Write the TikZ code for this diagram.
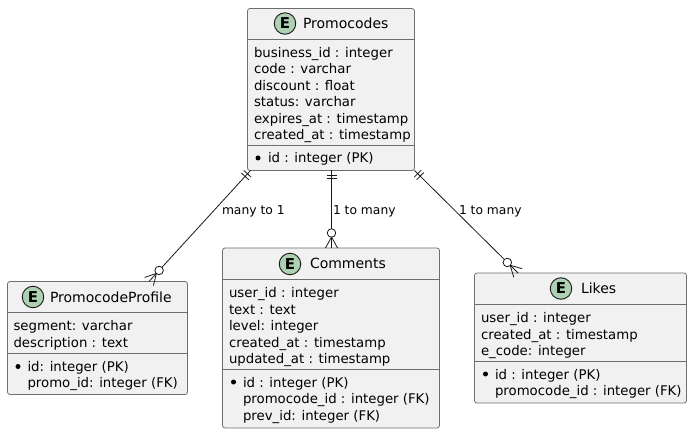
\documentclass[tikz,border=0pt]{standalone}
\usepackage{fontspec}
\setmainfont{DejaVu Sans}
\usetikzlibrary{calc}
\definecolor{boxfill}{HTML}{F1F1F1}
\definecolor{boxline}{HTML}{6E6E6E}
\definecolor{spot}{HTML}{ADD1B2}
\definecolor{ink}{HTML}{181818}
\tikzset{
  x=1pt,y=-1pt,
  entity/.style={draw=boxline,fill=boxfill,rounded corners=2.5pt,line width=.8pt,inner sep=0pt,outer sep=0pt},
  divider/.style={draw=boxline,line width=.8pt},
  attr/.style={anchor=base west,inner sep=0pt,outer sep=0pt,text=black,font=\fontsize{13.3}{15}\selectfont},
  title/.style={anchor=base west,inner sep=0pt,outer sep=0pt,text=black,font=\fontsize{14}{16}\selectfont},
  lab/.style={anchor=base west,inner sep=0pt,outer sep=0pt,text=black,font=\fontsize{12.3}{14}\selectfont},
  spotmark/.style={circle,draw=ink,fill=spot,line width=.9pt,minimum size=21.5pt,inner sep=0pt,font=\fontsize{15}{16}\selectfont\bfseries},
  dot/.style={circle,fill=black,minimum size=5pt,inner sep=0pt,outer sep=0pt},
  link/.style={draw=ink,line width=.8pt},
  ring/.style={circle,draw=ink,fill=white,line width=.8pt,minimum size=8.5pt,inner sep=0pt,outer sep=0pt},
}
% \erlink{start}{end}: ticks at the start, ring and crow's foot at the end
\newcommand{\erlink}[2]{%
  \coordinate (rc) at ($(#2)!15pt!(#1)$);
  \coordinate (ap) at ($(#2)!11pt!(#1)$);
  \coordinate (t1) at ($(#1)!4.5pt!(#2)$);
  \coordinate (t2) at ($(#1)!8pt!(#2)$);
  \draw[link] (#1) -- (rc);
  \node[ring] at (rc) {};
  \draw[link] (ap) -- (#2);
  \draw[link] (ap) -- ($(#2)!6pt!90:(#1)$);
  \draw[link] (ap) -- ($(#2)!6pt!-90:(#1)$);
  \draw[link] ($(t1)!5pt!90:(#2)$) -- ($(t1)!5pt!-90:(#2)$);
  \draw[link] ($(t2)!5pt!90:(#2)$) -- ($(t2)!5pt!-90:(#2)$);
}
\newcommand{\ebox}[5]{% name, x0, y0, w, h
  \node[entity,anchor=north west,minimum width=#4pt,minimum height=#5pt] (#1) at (#2,#3) {};
}
\begin{document}
\begin{tikzpicture}
\useasboundingbox (0,0) rectangle (697,433);
% Entities
\ebox{pc}{247.5}{8.5}{167}{162}
\ebox{pp}{7.5}{281.5}{180}{113}
\ebox{cm}{222.5}{248}{217}{180}
\ebox{lk}{474.5}{273}{212}{130}
% Promocodes
\node[spotmark] (pcE) at (285,23.5) {E};
\node[title] (pcT) at (303,28.5) {Promocodes};
\draw[divider] (pc.west |- 0,39.5) -- (pc.east |- 0,39.5);
\draw[divider] (pc.west |- 0,145.5) -- (pc.east |- 0,145.5);
\node[attr] (pc1) at (254,57.5) {business\_id : integer};
\node[attr] (pc2) at (254,74) {code : varchar};
\node[attr] (pc3) at (254,90.5) {discount : float};
\node[attr] (pc4) at (254,107) {status: varchar};
\node[attr] (pc5) at (254,123.5) {expires\_at : timestamp};
\node[attr] (pc6) at (254,140) {created\_at : timestamp};
\node[dot] (pcd) at (258,158) {};
\node[attr] (pc7) at (268,162.5) {id : integer (PK)};
% PromocodeProfile
\node[spotmark] (ppE) at (33,297) {E};
\node[title] (ppT) at (50,302) {PromocodeProfile};
\draw[divider] (pp.west |- 0,312.5) -- (pp.east |- 0,312.5);
\draw[divider] (pp.west |- 0,353.5) -- (pp.east |- 0,353.5);
\node[attr] (pp1) at (13.5,330.5) {segment: varchar};
\node[attr] (pp2) at (13.5,347) {description : text};
\node[dot] (ppd) at (18,366.5) {};
\node[attr] (pp3) at (27.5,371) {id: integer (PK)};
\node[attr] (pp4) at (27.5,387.5) {promo\_id: integer (FK)};
% Comments
\node[spotmark] (cmE) at (290,264) {E};
\node[title] (cmT) at (310,269) {Comments};
\draw[divider] (cm.west |- 0,279.5) -- (cm.east |- 0,279.5);
\draw[divider] (cm.west |- 0,369.5) -- (cm.east |- 0,369.5);
\node[attr] (cm1) at (229,297.5) {user\_id : integer};
\node[attr] (cm2) at (229,314) {text : text};
\node[attr] (cm3) at (229,330.5) {level: integer};
\node[attr] (cm4) at (229,347) {created\_at : timestamp};
\node[attr] (cm5) at (229,363.5) {updated\_at : timestamp};
\node[dot] (cmd) at (233.5,382) {};
\node[attr] (cm6) at (243,387) {id : integer (PK)};
\node[attr] (cm7) at (243,403.5) {promocode\_id : integer (FK)};
\node[attr] (cm8) at (243,420) {prev\_id: integer (FK)};
% Likes
\node[spotmark] (lkE) at (561,288.5) {E};
\node[title] (lkT) at (581,293.5) {Likes};
\draw[divider] (lk.west |- 0,304.5) -- (lk.east |- 0,304.5);
\draw[divider] (lk.west |- 0,361.5) -- (lk.east |- 0,361.5);
\node[attr] (lk1) at (481,322.5) {user\_id : integer};
\node[attr] (lk2) at (481,339) {created\_at : timestamp};
\node[attr] (lk3) at (481,355.5) {e\_code: integer};
\node[dot] (lkd) at (485.5,374) {};
\node[attr] (lk4) at (495,379) {id : integer (PK)};
\node[attr] (lk5) at (495,395.5) {promocode\_id : integer (FK)};
% Connectors
\coordinate (s1) at ($(pc.south west)+(3,0)$);
\coordinate (e1) at (pp.north -| 149,0);
\erlink{s1}{e1}
\coordinate (s2) at (pc.south -| 331.5,0);
\coordinate (e2) at (cm.north -| 331.5,0);
\erlink{s2}{e2}
\coordinate (s3) at ($(pc.south east)+(0,0)$);
\coordinate (e3) at (lk.north -| 518,0);
\erlink{s3}{e3}
\node[lab] (l1) at (222,214.5) {many to 1};
\node[lab] (l2) at (333,214.5) {1 to many};
\node[lab] (l3) at (459,214.5) {1 to many};
\end{tikzpicture}
\end{document}
